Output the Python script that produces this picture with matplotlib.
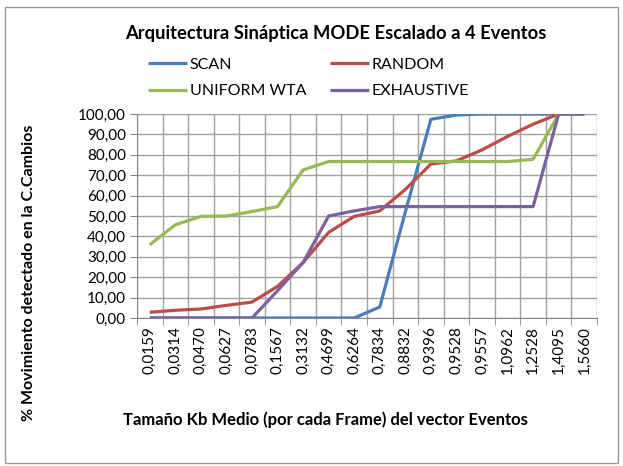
import matplotlib.pyplot as plt
from matplotlib.patches import Rectangle

# categories (Tamaño Kb medio)
categorias = ['0,0159', '0,0314', '0,0470', '0,0627', '0,0783', '0,1567',
              '0,3132', '0,4699', '0,6264', '0,7834', '0,8832', '0,9396',
              '0,9528', '0,9557', '1,0962', '1,2528', '1,4095', '1,5660']

scan = [0, 0, 0, 0, 0, 0, 0, 0, 0, 5.4, 52, 97.4, 99.5, 100, 100, 100, 100, 100]
random_ = [2.8, 3.8, 4.4, 6.2, 7.8, 15.5, 27.2, 42, 49.8, 52.5, 63, 75.5,
           77, 82.4, 89, 95, 100, 100]
uniform_wta = [35.9, 45.7, 49.8, 50, 52.2, 54.6, 72.6, 76.7, 76.7, 76.7, 76.7,
               76.7, 76.7, 76.7, 76.7, 77.8, 100, 100]
exhaustive = [0, 0, 0, 0, 0, 13.4, 27.2, 50, 52.5, 54.6, 54.6, 54.6, 54.6,
              54.6, 54.6, 54.6, 100, 100]

series = [('SCAN', scan, '#4a7ebb'),
          ('RANDOM', random_, '#be4b48'),
          ('UNIFORM WTA', uniform_wta, '#98b954'),
          ('EXHAUSTIVE', exhaustive, '#7d60a0')]

plt.rcParams['font.family'] = ['Lato', 'DejaVu Sans']

fig = plt.figure(figsize=(6.23, 4.66), dpi=100)
ax = fig.add_axes([137 / 623, 1 - 318 / 466, 460 / 623, 204 / 466])

x = list(range(len(categorias)))
lines = {}
for name, vals, col in series:
    ln, = ax.plot(x, vals, color=col, lw=2.3, label=name, solid_capstyle='butt')
    lines[name] = ln

ax.set_xlim(-0.5, len(categorias) - 0.5)
ax.set_ylim(0, 100)
ax.set_yticks(range(0, 101, 10))
ax.set_yticklabels(['%d,00' % v for v in range(0, 101, 10)], fontsize=11)
ax.set_xticks(x)
ax.set_xticklabels(categorias, rotation=90, fontsize=11)
ax.set_xticks([i - 0.5 for i in range(len(categorias) + 1)], minor=True)

ax.grid(True, which='major', axis='y', color='#a0a0a0', lw=1)
ax.grid(True, which='minor', axis='x', color='#a0a0a0', lw=1)
ax.set_axisbelow(True)
ax.tick_params(axis='x', which='major', length=0, pad=6)
ax.tick_params(axis='x', which='minor', length=5, color='#868686', direction='out')
ax.tick_params(axis='y', length=5, color='#868686', pad=3)
for s in ['top', 'right']:
    ax.spines[s].set_visible(False)
for s in ['left', 'bottom']:
    ax.spines[s].set_color('#868686')

fig.text(336 / 623, 1 - 33 / 466, 'Arquitectura Sináptica MODE Escalado a 4 Eventos',
         ha='center', va='center', fontsize=13.2, fontweight='bold')

# legend filled row by row, as in the original
orden = ['SCAN', 'UNIFORM WTA', 'RANDOM', 'EXHAUSTIVE']
leg = fig.legend([lines[n] for n in orden], orden, ncol=2, frameon=False,
                 loc='center left', bbox_to_anchor=(134 / 623, 1 - 78 / 466),
                 fontsize=11.5, handlelength=2.4, handletextpad=0.2,
                 columnspacing=1.5, labelspacing=0.75)

ax.set_ylabel('% Movimiento detectado en la C.Cambios', fontsize=11.5,
              fontweight='bold')
ax.yaxis.set_label_coords(-0.22, 0.22)
fig.text(325 / 623, 1 - 420 / 466,
         'Tamaño Kb Medio (por cada Frame) del vector Eventos',
         ha='center', va='center', fontsize=12, fontweight='bold')

fig.patches.append(Rectangle((5 / 623, 3 / 466), 613 / 623, 456 / 466,
                             transform=fig.transFigure, fill=False,
                             edgecolor='#9a9a9a', lw=1))

fig.savefig('out.png', dpi=100)
